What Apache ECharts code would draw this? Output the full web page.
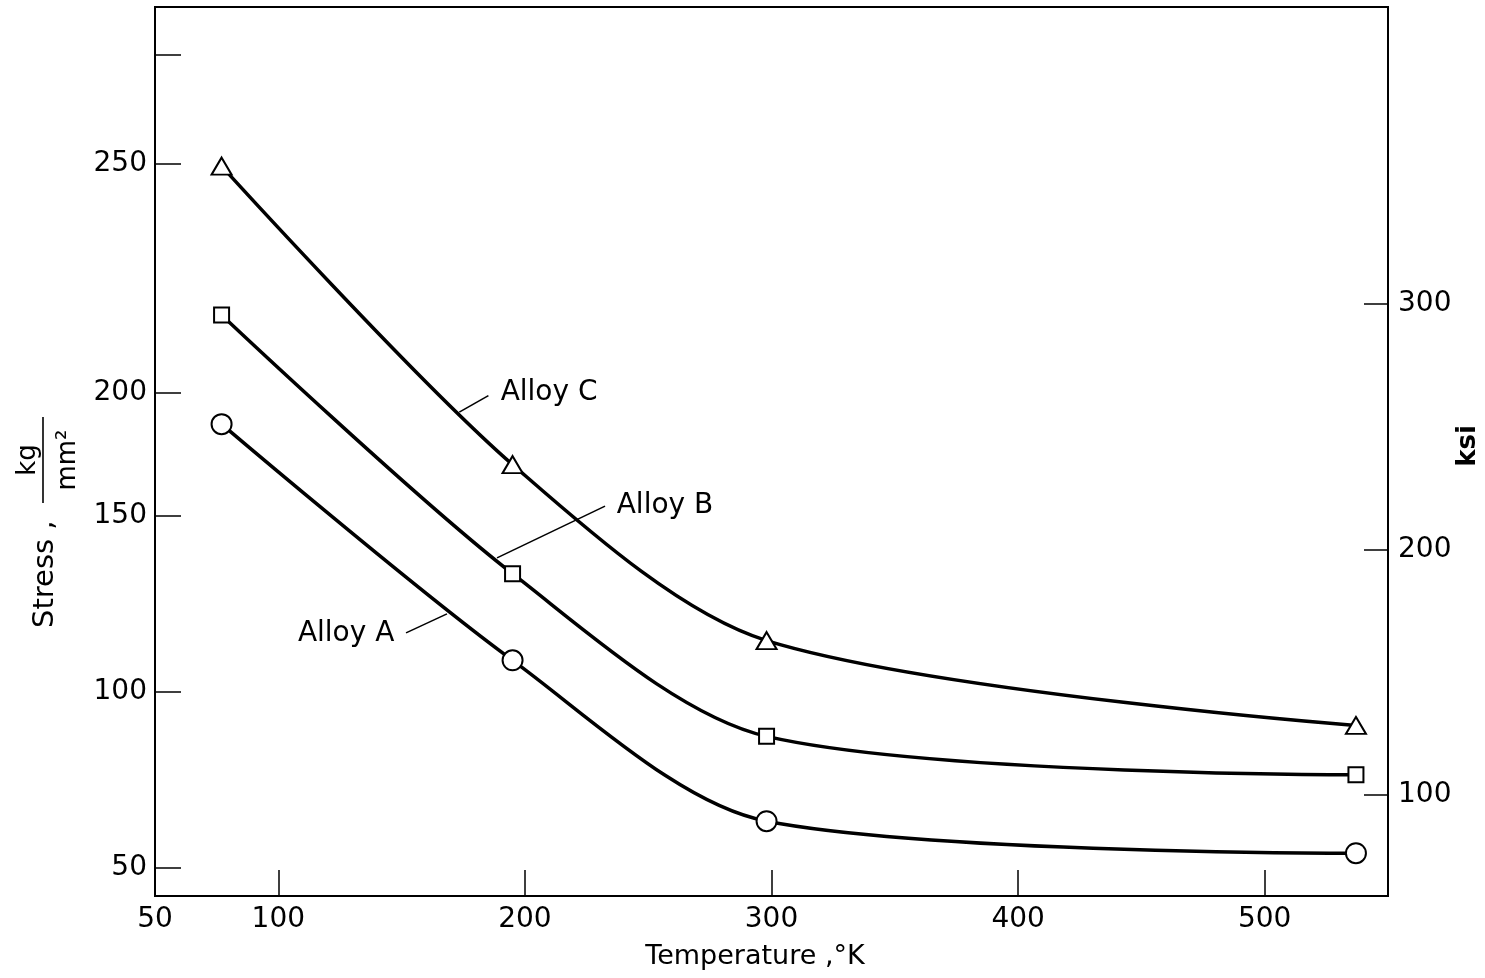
<!DOCTYPE html>
<html>
<head>
<meta charset="utf-8">
<script src="https://cdn.jsdelivr.net/npm/echarts@6/dist/echarts.min.js"></script>
<style>
  html, body { margin: 0; padding: 0; background: #fff; }
  #main { width: 1485px; height: 978px; }
</style>
</head>
<body>
<div id="main"></div>
<script>
// temperatures (K) and stress (kg/mm2)
var temps = [77, 195, 298, 537];
var alloyA = [176.1, 109.0, 63.3, 54.2];
var alloyB = [207.1, 133.6, 87.4, 76.5];
var alloyC = [249.4, 164.6, 114.6, 90.5];

// axis ticks as drawn on the original (left scale has an odd "200" position)
var xTicks = [100, 200, 300, 400, 500];
var xLabels = [50, 100, 200, 300, 400, 500];
var leftTicks = [50, 100, 150, 185, 250, 281];
var leftLabelValues = [50, 100, 150, 185, 250];
var leftLabelText = ['50', '100', '150', '200', '250'];
var rightTicks = [100, 200, 300];

// callouts, in data units [temp, stress]
var calloutText = ['Alloy A', 'Alloy B', 'Alloy C'];
var calloutAt = [[127.5, 116.5], [256.8, 152.8], [209.8, 184.9]];
var leaderFrom = [[151.8, 116.8], [188.7, 138.1], [173.4, 179.5]];
var leaderTo = [[168.4, 122.2], [232.5, 152.8], [185.2, 184.2]];
var leaderCurve = [0, -0.15, 0];

var FONT = 'DejaVu Sans';
var chartDom = document.getElementById('main');
var myChart = echarts.init(chartDom, null, { renderer: 'canvas' });

function pairs(ys) {
  return temps.map(function (t, i) { return [t, ys[i]]; });
}

function makeSeries(name, ys, symbol, size, idx) {
  return {
    name: name,
    type: 'line',
    data: pairs(ys),
    smooth: 0.3,
    symbol: symbol,
    symbolSize: size,
    showAllSymbol: true,
    lineStyle: { color: '#000', width: 3.5 },
    itemStyle: { color: '#fff', borderColor: '#000', borderWidth: 2 },
    z: 3,
    markLine: {
      silent: true,
      symbol: ['none', 'none'],
      label: { show: false },
      lineStyle: { color: '#000', width: 1.6, type: 'solid', curveness: leaderCurve[idx] },
      data: [[{ coord: leaderFrom[idx] }, { coord: leaderTo[idx] }]]
    },
    markPoint: {
      silent: true,
      symbol: 'circle',
      symbolSize: 0,
      label: {
        show: true,
        position: 'inside',
        formatter: calloutText[idx],
        color: '#000',
        fontFamily: FONT,
        fontSize: 28
      },
      data: [{ coord: calloutAt[idx] }]
    }
  };
}

var option = {
  animation: false,
  backgroundColor: '#fff',
  grid: {
    left: 155, right: 97, top: 7, bottom: 82,
    show: true, borderColor: '#000', borderWidth: 2, backgroundColor: 'transparent'
  },
  xAxis: {
    type: 'value',
    min: 50, max: 550,
    axisLine: { show: false },
    splitLine: { show: false },
    axisTick: { show: true, inside: true, length: 26, lineStyle: { color: '#000', width: 1.5 }, customValues: xTicks },
    axisLabel: { color: '#000', fontFamily: FONT, fontSize: 28, margin: 10, customValues: xLabels }
  },
  yAxis: [
    {
      type: 'value',
      position: 'left',
      min: 42.05, max: 294.6,
      axisLine: { show: false },
      splitLine: { show: false },
      axisTick: { show: true, inside: true, length: 26, lineStyle: { color: '#000', width: 1.5 }, customValues: leftTicks },
      axisLabel: {
        color: '#000', fontFamily: FONT, fontSize: 28, margin: 8,
        customValues: leftLabelValues,
        formatter: function (v) {
          var i = leftLabelValues.indexOf(v);
          return i >= 0 ? leftLabelText[i] : '';
        }
      }
    },
    {
      type: 'value',
      position: 'right',
      min: 58.9, max: 421.0,
      axisLine: { show: false },
      splitLine: { show: false },
      axisTick: { show: true, inside: true, length: 24, lineStyle: { color: '#000', width: 1.5 }, customValues: rightTicks },
      axisLabel: { color: '#000', fontFamily: FONT, fontSize: 28, margin: 10, customValues: rightTicks }
    }
  ],
  series: [
    makeSeries('Alloy A', alloyA, 'circle', 20, 0),
    makeSeries('Alloy B', alloyB, 'rect', 15, 1),
    makeSeries('Alloy C', alloyC, 'triangle', [20, 17], 2)
  ],
  graphic: [
    {
      type: 'text',
      x: 755, y: 957,
      style: {
        text: 'Temperature ,°K',
        font: '27px "DejaVu Sans"',
        fill: '#000',
        align: 'center',
        verticalAlign: 'middle'
      }
    },
    {
      type: 'group',
      x: 45, y: 628,
      rotation: Math.PI / 2,
      children: [
        {
          type: 'text',
          x: 0, y: 0,
          style: { text: 'Stress ,', font: '29px "DejaVu Sans"', fill: '#000', align: 'left', verticalAlign: 'middle' }
        },
        {
          type: 'line',
          shape: { x1: 125, y1: -2, x2: 211, y2: -2 },
          style: { stroke: '#000', lineWidth: 1.6 }
        },
        {
          type: 'text',
          x: 168, y: -17,
          style: { text: 'kg', font: '26px "DejaVu Sans"', fill: '#000', align: 'center', verticalAlign: 'middle' }
        },
        {
          type: 'text',
          x: 168, y: 23,
          style: { text: 'mm²', font: '26px "DejaVu Sans"', fill: '#000', align: 'center', verticalAlign: 'middle' }
        }
      ]
    },
    {
      type: 'text',
      x: 1468, y: 446,
      rotation: Math.PI / 2,
      style: {
        text: 'ksi',
        font: 'bold 26px "DejaVu Sans"',
        fill: '#000',
        align: 'center',
        verticalAlign: 'middle'
      }
    }
  ]
};

myChart.setOption(option);
</script>
</body>
</html>
